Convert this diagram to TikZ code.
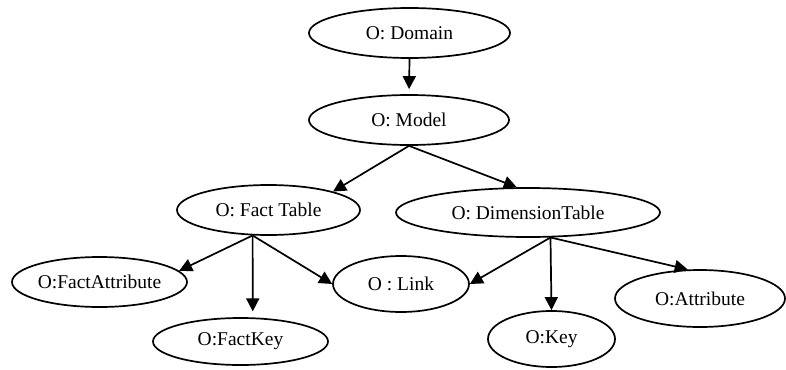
\documentclass[tikz,border=0pt]{standalone}
\usepackage{fontspec}
\setmainfont{Liberation Serif}
\usetikzlibrary{shapes.geometric,arrows.meta}
\begin{document}
\begin{tikzpicture}[x=1pt,y=-1pt,
  ov/.style={ellipse,draw,line width=1.7pt,inner sep=0pt,font=\fontsize{19.5}{22}\selectfont},
  conn/.style={line width=1.7pt,-{Triangle[length=13pt,width=13pt]}}]
\useasboundingbox (0,0) rectangle (786,369);
\node[ov,minimum width=201pt,minimum height=50pt] (dom) at (409.5,33) {O: Domain};
\node[ov,minimum width=200pt,minimum height=50pt] (mod) at (409,120) {O: Model};
\node[ov,minimum width=183pt,minimum height=50pt] (ft) at (268.5,210) {O: Fact Table};
\node[ov,minimum width=264pt,minimum height=49pt] (dt) at (528,212.5) {O: DimensionTable};
\node[ov,minimum width=175pt,minimum height=50pt] (fa) at (99.5,282) {O:FactAttribute};
\node[ov,minimum width=136pt,minimum height=56pt] (lk) at (401,284) {O : Link};
\node[ov,minimum width=175pt,minimum height=47pt] (fk) at (240.5,341.5) {O:FactKey};
\node[ov,minimum width=127pt,minimum height=56pt] (ky) at (551.5,339) {O:Key};
\node[ov,minimum width=170pt,minimum height=57pt] (at) at (700,298.5) {O:Attribute};
\draw[conn,shorten >=5pt] (dom.south) -- (mod.north);
\draw[conn] (mod.south) -- (ft.16);
\draw[conn] (mod.south) -- (dt.114);
\draw[conn] (ft.-122) -- (fa.8);
\draw[conn,shorten >=6pt] (ft.-122) -- (fk.63);
\draw[conn] (ft.-122) -- (lk.west);
\draw[conn] (dt.-48) -- (lk.east);
\draw[conn] (dt.-48) -- (ky.north);
\draw[conn] (dt.-48) -- (at.113);
\end{tikzpicture}
\end{document}
